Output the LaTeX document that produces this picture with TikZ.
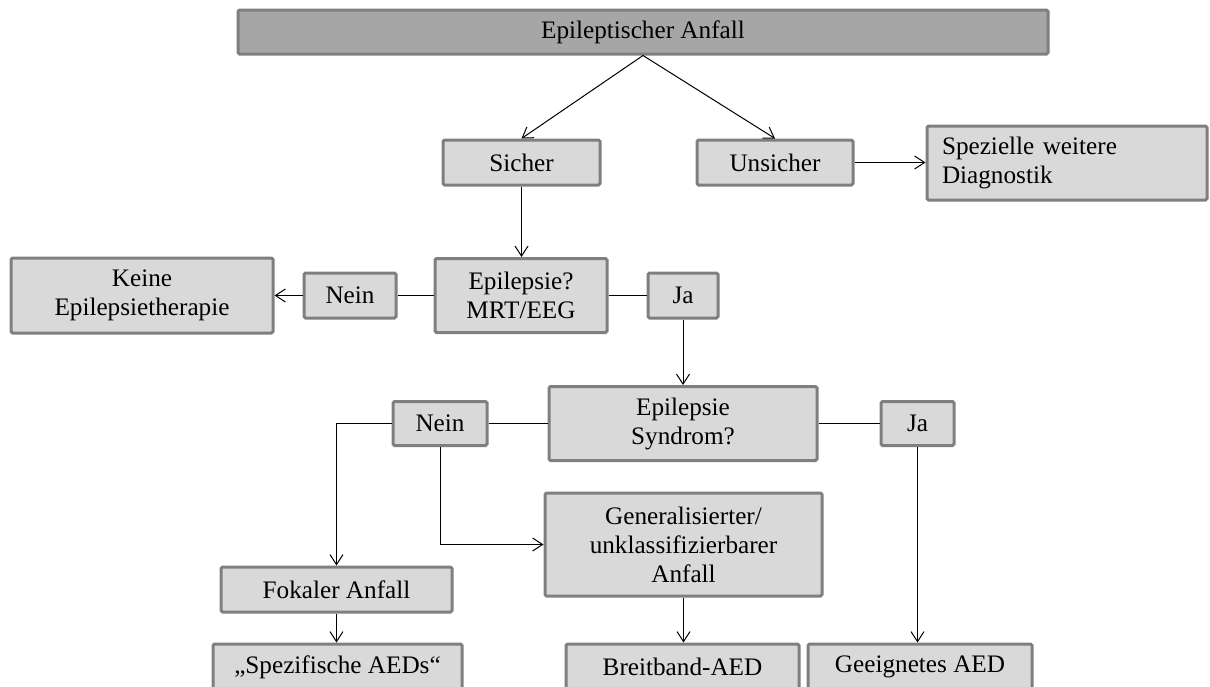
\documentclass[tikz,border=0pt]{standalone}
\usepackage{fontspec}
\setmainfont{Liberation Serif}
\usetikzlibrary{arrows.meta}
\definecolor{boxfill}{HTML}{D9D9D9}
\definecolor{topfill}{HTML}{A6A6A6}
\definecolor{boxline}{HTML}{7F7F7F}
\tikzset{
  box/.style={draw=boxline, line width=1.5pt, fill=boxfill, rounded corners=0.75pt,
    align=center, inner sep=0pt, font=\fontsize{12.6}{14.5}\selectfont},
  conn/.style={line width=0.5pt, draw=black},
  arr/.style={conn, -{Straight Barb[length=5pt,width=6.5pt]}}
}
\begin{document}
\begin{tikzpicture}[x=0.5pt,y=-0.5pt]
\useasboundingbox (0,0) rectangle (1210,686);
\clip (0,0) rectangle (1210,686);
% nodes
\node[box, fill=topfill, minimum width=405pt, minimum height=22pt] (top) at (643,32) {Epileptischer Anfall};
\node[box, minimum width=78.5pt, minimum height=22.5pt] (sicher) at (521.5,162.5) {Sicher};
\node[box, minimum width=78pt, minimum height=22.5pt] (unsicher) at (775,162.5) {Unsicher};
\node[box, align=left, text width=125pt, inner xsep=7.5pt, minimum height=37pt] (spez) at (1067,163) {Spezielle weitere\\Diagnostik};
\node[box, minimum width=131pt, minimum height=37.5pt] (keine) at (142,295.5) {Keine\\Epilepsietherapie};
\node[box, minimum width=46pt, minimum height=22.5pt] (nein1) at (350,295.5) {Nein};
\node[box, minimum width=86pt, minimum height=37pt] (epi) at (521,295.5) {Epilepsie?\\MRT/EEG};
\node[box, minimum width=35pt, minimum height=22.5pt] (ja1) at (683,295.5) {Ja};
\node[box, minimum width=134pt, minimum height=37pt] (syn) at (683,423.5) {Epilepsie\\Syndrom?};
\node[box, minimum width=47pt, minimum height=22pt] (nein2) at (440,423.5) {Nein};
\node[box, minimum width=36.5pt, minimum height=22pt] (ja2) at (917.5,423.5) {Ja};
\node[box, minimum width=138.5pt, minimum height=51.5pt] (gen) at (683.5,544.5) {Generalisierter/\\unklassifizierbarer\\Anfall};
\node[box, minimum width=115.5pt, minimum height=22.5pt] (fok) at (336.5,589.5) {Fokaler Anfall};
\node[box, minimum width=124.5pt, minimum height=23pt] (spezif) at (337.5,667) {„Spezifische AEDs“};
\node[box, minimum width=116.5pt, minimum height=23pt] (breit) at (682.5,667) {Breitband-AED};
\node[box, minimum width=112pt, minimum height=23pt] (geeig) at (920,667) {Geeignetes AED};
% connectors
\draw[arr] (top.south) -- (sicher.north);
\draw[arr] (top.south) -- (unsicher.north);
\draw[arr] (unsicher.east) -- (unsicher.east -| spez.west);
\draw[arr] (sicher.south) -- (sicher.south |- epi.north);
\draw[conn] (epi.west) -- (nein1.east);
\draw[arr] (nein1.west) -- (keine.east);
\draw[conn] (epi.east) -- (ja1.west);
\draw[arr] (ja1.south) -- (syn.north);
\draw[conn] (nein2.east) -- (syn.west);
\draw[conn] (syn.east) -- (ja2.west);
\draw[arr] (nein2.west) -| (fok.north);
\draw[arr] (nein2.south) |- (gen.west);
\draw[arr] (fok.south) -- (fok.south |- spezif.north);
\draw[arr] (gen.south) -- (gen.south |- breit.north);
\draw[arr] (ja2.south) -- (ja2.south |- geeig.north);
\end{tikzpicture}
\end{document}
